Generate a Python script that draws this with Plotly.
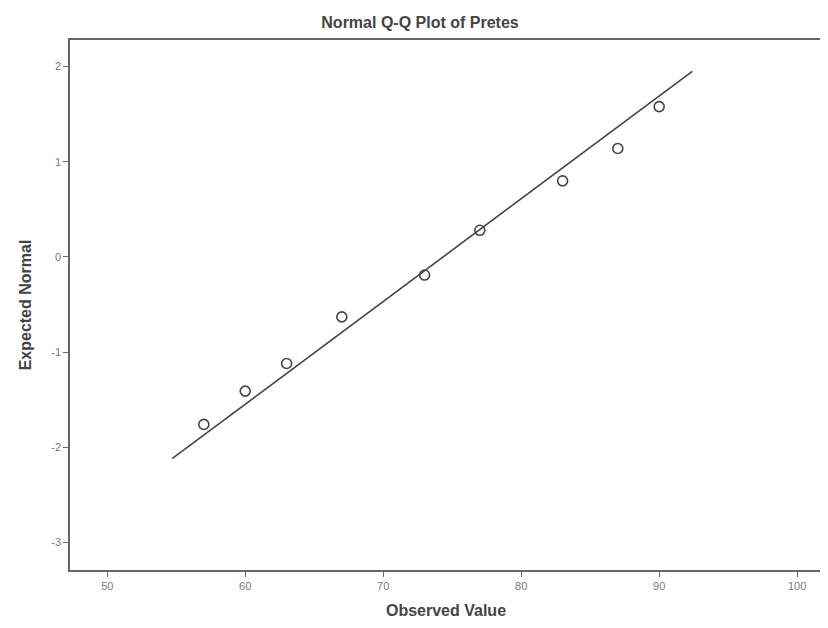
import plotly.graph_objects as go

observed = [57, 60, 63, 67, 73, 77, 83, 87, 90]
expected = [-1.76, -1.41, -1.12, -0.63, -0.19, 0.28, 0.80, 1.14, 1.58]
line_x = [54.7, 92.4]
line_y = [-2.12, 1.95]
x_ticks = [50, 60, 70, 80, 90, 100]
y_ticks = [2, 1, 0, -1, -2, -3]

FONT = "Liberation Sans, Arial"
W, H = 820, 620  # page body has an 8px margin

fig = go.Figure()
fig.add_trace(go.Scatter(x=line_x, y=line_y, mode="lines",
                         line=dict(color="#444", width=1.6), showlegend=False))
fig.add_trace(go.Scatter(x=observed, y=expected, mode="markers",
                         marker=dict(symbol="circle-open", size=10, color="#444",
                                     line=dict(width=1.6)), showlegend=False))

fig.update_layout(
    width=W, height=H,
    margin=dict(l=62, r=6, t=32, b=58, pad=0),
    paper_bgcolor="white", plot_bgcolor="white",
    title=dict(text="<b>Normal Q-Q Plot of Pretes</b>", x=412 / W, xanchor="center",
               xref="container", yref="container",
               y=1 - 14 / H, yanchor="middle", automargin=False,
               font=dict(family=FONT, size=16, color="#444")),
    xaxis=dict(range=[47.3, 101.8], tickvals=x_ticks, ticktext=[str(v) for v in x_ticks],
               automargin=False,
               showgrid=False, zeroline=False, showline=True, linecolor="#666", linewidth=1.5,
               mirror=True, ticks="outside", ticklen=5, tickcolor="#666",
               tickfont=dict(family=FONT, size=11, color="#777"),
               title=dict(text="<b>Observed Value</b>", standoff=14,
                          font=dict(family=FONT, size=16, color="#444"))),
    yaxis=dict(range=[-3.29, 2.28], tickvals=y_ticks, ticktext=[str(v) for v in y_ticks],
               automargin=False,
               showgrid=False, zeroline=False, showline=True, linecolor="#666", linewidth=1.5,
               mirror=True, ticks="outside", ticklen=5, tickcolor="#666",
               tickfont=dict(family=FONT, size=11, color="#777"),
               title=dict(text="<b>Expected Normal</b>", standoff=16,
                          font=dict(family=FONT, size=16, color="#444"))),
)

fig.write_html("out.html")
